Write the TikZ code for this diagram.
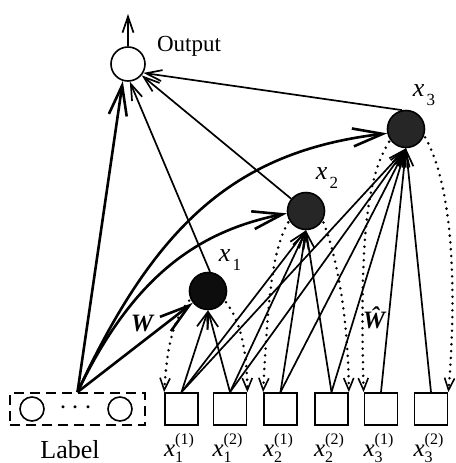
\documentclass[tikz,border=0pt]{standalone}
\usepackage{fontspec}
\setmainfont{Liberation Serif}
\usetikzlibrary{arrows.meta}
% hidden-unit label: italic x with a lowered index
\newcommand{\hidlab}[1]{\textit{x}\hspace{1.2pt}\raisebox{-0.32em}{\fontsize{8.5}{9}\selectfont #1}}
% input label: italic x with group index below and component index above
\newcommand{\inlab}[2]{$\textit{x}^{\mbox{\fontsize{8}{9}\selectfont(#2)}}_{\mbox{\fontsize{8}{9}\selectfont #1}}$}
\begin{document}
\begin{tikzpicture}[x=0.5pt,y=-0.5pt,
  outunit/.style={circle,draw,line width=0.8pt,minimum size=17pt,inner sep=0pt},
  hidunit/.style={circle,draw,line width=0.8pt,fill=black!85,minimum size=18.5pt,inner sep=0pt},
  inbox/.style={draw,line width=0.9pt,minimum width=16.5pt,minimum height=16pt,inner sep=0pt},
  lblcirc/.style={circle,draw,line width=0.8pt,minimum size=12pt,inner sep=0pt},
  thickarr/.style={line width=1.3pt,-{Straight Barb[length=15pt,width=9pt]}},
  thinarr/.style={line width=0.85pt,-{Straight Barb[length=8pt,width=5.5pt]}},
  recon/.style={line width=1.4pt,line cap=round,dash pattern=on 0pt off 3.4pt,shorten <=1pt,
    -{Straight Barb[length=6pt,width=5pt,line width=0.8pt]}},
  txt/.style={inner sep=0pt,font=\fontsize{11.5}{13}\selectfont},
]
\useasboundingbox (0,0) rectangle (456,463);

% units
\node[outunit] (out) at (128,64) {};
\node[hidunit,fill=black!95] (x1) at (208,291) {};
\node[hidunit] (x2) at (306,211) {};
\node[hidunit] (x3) at (406,129) {};
\coordinate (top) at (128,14);

% label block
\node[draw,dashed,dash pattern=on 5pt off 3pt,line width=0.9pt,minimum width=67.5pt,minimum height=16pt,inner sep=0pt] (lbl) at (77.5,409) {};
\node[lblcirc] (lc1) at (32,409) {};
\node[lblcirc] (lc2) at (120,409) {};
\node[inner sep=0pt,font=\fontsize{15}{15}\selectfont\bfseries] (ldots) at (76,408) {$\cdots$};

% input squares
\node[inbox] (sq1) at (181.5,409) {};
\node[inbox] (sq2) at (230,409) {};
\node[inbox] (sq3) at (280.5,409) {};
\node[inbox] (sq4) at (331.5,409) {};
\node[inbox] (sq5) at (381,409) {};
\node[inbox] (sq6) at (431,409) {};

% texts
\node[txt] (outtxt) at (189,46) {Output};
\node[txt,font=\fontsize{13}{15}\selectfont] (lbltxt) at (70,450) {Label};
\node[txt,font=\fontsize{13}{15}\selectfont] (t1) at (424,95) {\hidlab{3}};
\node[txt,font=\fontsize{13}{15}\selectfont] (t2) at (327,178) {\hidlab{2}};
\node[txt,font=\fontsize{13}{15}\selectfont] (t3) at (230,260) {\hidlab{1}};
\node[txt,font=\fontsize{12.5}{14}\selectfont\bfseries\itshape] (wlab) at (142,323) {W};
\node[txt,font=\fontsize{12.5}{14}\selectfont\bfseries\itshape] (whatlab) at (374,318) {Ŵ};
\foreach \i/\g/\c in {1/1/1,2/1/2,3/2/1,4/2/2,5/3/1,6/3/2}
  \node[txt,font=\fontsize{12.5}{14}\selectfont] (in\i) at ([xshift=-1pt]sq\i.south |- 0,448) {\inlab{\g}{\c}};

% output arrow
\draw[thinarr] (out) -- (top);

% label block to all units
\draw[thickarr] (lbl.north) -- (out.-107);
\draw[thickarr] (lbl.north) .. controls (157,221) and (238,151) .. (x3.193);
\draw[thickarr] (lbl.north) .. controls (133.5,275) and (199,231) .. (x2.187);
\draw[thickarr] (lbl.north) -- (x1);

% hidden units to output
\draw[thinarr] (x1.84) -- (out.-84);
\draw[thinarr] (x2) -- (out);
\draw[thinarr] (x3.102) -- (out.-30);

% inputs to hidden units
\foreach \s in {1,2} \draw[thinarr] (sq\s.north) -- (x1.south);
\foreach \s in {1,...,4} \draw[thinarr] (sq\s.north) -- (x2.south);
\foreach \s in {1,...,6} \draw[thinarr] (sq\s.north) -- (x3.south);

% reconstructions
\draw[recon] (x1.205) .. controls (172,320) and (167,350) .. (sq1.north west);
\draw[recon] (x1.-30) .. controls (240,320) and (247,350) .. (sq2.north east);
\draw[recon] (x2.210) .. controls (272,250) and (268,300) .. (sq3.north west);
\draw[recon] (x2.-30) .. controls (338,260) and (348,320) .. (sq4.north east);
\draw[recon] (x3.215) .. controls (365,180) and (360,250) .. (sq5.north west);
\draw[recon] (x3.-20) .. controls (455,190) and (456,300) .. (sq6.north east);
\end{tikzpicture}
\end{document}
